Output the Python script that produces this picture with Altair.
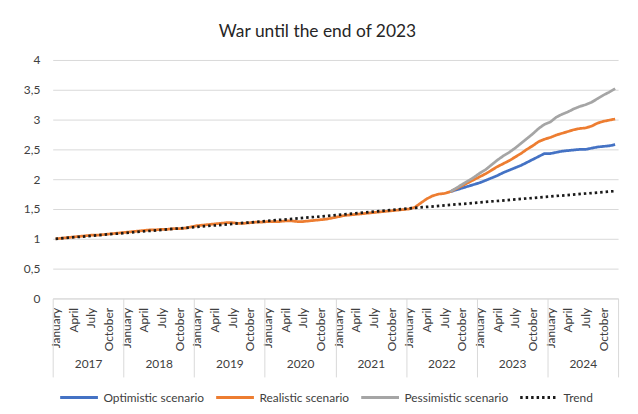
import altair as alt
import pandas as pd

# ---- data ----
series_names = ["Optimistic scenario", "Realistic scenario", "Pessimistic scenario", "Trend"]
series_colors = ["#4472C4", "#ED7D31", "#A5A5A5", "#1a1a1a"]

years = [2017, 2018, 2019, 2020, 2021, 2022, 2023, 2024]
month_labels = ["January", "April", "July", "October"]

# Realistic scenario, monthly Jan 2017 .. Dec 2024
r2017 = [1.00, 1.01, 1.02, 1.03, 1.04, 1.05, 1.06, 1.06, 1.07, 1.08, 1.09, 1.10]
r2018 = [1.11, 1.12, 1.13, 1.14, 1.15, 1.15, 1.16, 1.16, 1.17, 1.17, 1.18, 1.20]
r2019 = [1.22, 1.23, 1.24, 1.25, 1.26, 1.27, 1.27, 1.26, 1.26, 1.27, 1.28, 1.28]
r2020 = [1.29, 1.29, 1.29, 1.30, 1.30, 1.29, 1.29, 1.30, 1.31, 1.32, 1.33, 1.35]
r2021 = [1.37, 1.39, 1.40, 1.41, 1.42, 1.43, 1.44, 1.45, 1.46, 1.47, 1.48, 1.49]
r2022 = [1.50, 1.53, 1.60, 1.67, 1.72, 1.75, 1.76, 1.79, 1.84, 1.89, 1.94, 1.99]
r2023 = [2.04, 2.09, 2.15, 2.21, 2.26, 2.31, 2.37, 2.43, 2.50, 2.56, 2.63, 2.67]
r2024 = [2.70, 2.74, 2.77, 2.80, 2.83, 2.85, 2.86, 2.89, 2.94, 2.97, 2.99, 3.01]
realistic = r2017 + r2018 + r2019 + r2020 + r2021 + r2022 + r2023 + r2024

# Optimistic / pessimistic: monthly from Aug 2022 (month index 67) to Dec 2024
scenario_start = 67
optimistic = [1.79, 1.82, 1.85, 1.88, 1.91, 1.94, 1.98, 2.02, 2.06, 2.11, 2.15, 2.19,
              2.23, 2.28, 2.33, 2.38, 2.43, 2.43, 2.45, 2.47, 2.48, 2.49, 2.50, 2.50,
              2.52, 2.54, 2.55, 2.56, 2.58]
pessimistic = [1.79, 1.85, 1.91, 1.97, 2.03, 2.10, 2.16, 2.24, 2.32, 2.39, 2.45, 2.52,
               2.60, 2.68, 2.76, 2.85, 2.92, 2.96, 3.04, 3.09, 3.13, 3.18, 3.22, 3.25,
               3.29, 3.35, 3.41, 3.46, 3.52]

# Trend (straight dotted line), month index -> value
trend_months = [0, 12, 24, 36, 48, 60, 72, 84, 95]
trend_values = [1.00, 1.10, 1.20, 1.30, 1.40, 1.51, 1.61, 1.71, 1.80]

y_ticks = [0, 0.5, 1, 1.5, 2, 2.5, 3, 3.5, 4]

# ---- build the long table ----
rows = []
for i, v in enumerate(optimistic):
    rows.append({"series": series_names[0], "pos": scenario_start + i + 0.5, "value": v})
for i, v in enumerate(realistic):
    rows.append({"series": series_names[1], "pos": i + 0.5, "value": v})
for i, v in enumerate(pessimistic):
    rows.append({"series": series_names[2], "pos": scenario_start + i + 0.5, "value": v})
for m, v in zip(trend_months, trend_values):
    rows.append({"series": series_names[3], "pos": m + 0.5, "value": v})
df = pd.DataFrame(rows)

n_months = 12 * len(years)
FONT = "Lato"
TXT = "#404040"
GRID = "#d9d9d9"

x_scale = alt.Scale(domain=[0, n_months], nice=False, zero=False)
y_axis = alt.Axis(values=y_ticks, labelExpr="replace(format(datum.value, '~g'), '.', ',')",
                  grid=True, gridColor=GRID, gridWidth=1, domain=False, ticks=False,
                  labelPadding=13, title=None, labelColor=TXT, labelFontSize=12)
y_enc = alt.Y("value:Q", scale=alt.Scale(domain=[0, 4], nice=False), axis=y_axis)

month_expr = "[" + ",".join("'%s'" % s for s in month_labels) + "][floor((floor(datum.value) % 12) / 3)]"
month_axis = alt.Axis(values=[m + 0.5 for m in range(n_months) if m % 3 == 0],
                      labelExpr=month_expr, labelAngle=270, labelAlign="right",
                      labelBaseline="middle", ticks=False, grid=False, domain=True,
                      domainColor=GRID, labelPadding=9, title=None, orient="bottom",
                      labelColor=TXT, labelFontSize=12, labelOverlap=False, labelFlush=False)

sep_axis = alt.Axis(values=[12 * k for k in range(len(years) + 1)], labels=False, ticks=True,
                    tickSize=79, tickColor=GRID, tickWidth=1, domain=False, grid=False,
                    title=None, orient="bottom")

year_expr = "[" + ",".join("'%d'" % y for y in years) + "][floor(datum.value / 12)]"
year_axis = alt.Axis(values=[12 * k + 6 for k in range(len(years))], labelExpr=year_expr,
                     ticks=False, domain=False, grid=False, title=None, orient="bottom",
                     labelPadding=61, labelColor=TXT, labelFontSize=12, labelOverlap=False,
                     labelFlush=False)

legend = alt.Legend(orient="none", legendX=6, legendY=319, direction="horizontal", title=None,
                    symbolType="stroke", symbolSize=1444, symbolStrokeWidth=3,
                    labelFontSize=12, labelColor=TXT, columnPadding=5, labelOffset=4)

base = alt.Chart(df)

lines = base.mark_line(strokeWidth=2.75).encode(
    x=alt.X("pos:Q", scale=x_scale, axis=month_axis),
    y=y_enc,
    color=alt.Color("series:N", scale=alt.Scale(domain=series_names, range=series_colors),
                    sort=series_names, legend=legend),
    strokeDash=alt.StrokeDash("series:N",
                              scale=alt.Scale(domain=series_names,
                                              range=[[1, 0], [1, 0], [1, 0], [2.5, 3]]),
                              sort=series_names, legend=legend),
    detail="series:N",
)

seps = base.mark_line(opacity=0).encode(
    x=alt.X("pos:Q", scale=x_scale, axis=sep_axis), y=y_enc, detail="series:N")

yrs = base.mark_line(opacity=0).encode(
    x=alt.X("pos:Q", scale=x_scale, axis=year_axis), y=y_enc, detail="series:N")

chart = alt.layer(lines, seps, yrs).resolve_axis(x="independent").properties(
    width=569, height=240,
    padding={"left": 45, "top": 51, "right": 12, "bottom": 112},
    autosize=alt.AutoSizeParams(type="none"),
    title=alt.Title("War until the end of 2023", fontSize=17.5, font=FONT, fontWeight="normal",
                    color="#262626", offset=14, dx=-18, anchor="middle"),
).configure(font=FONT).configure_view(stroke=None)

chart.save("out.html", embed_options={"renderer": "svg", "actions": False})
